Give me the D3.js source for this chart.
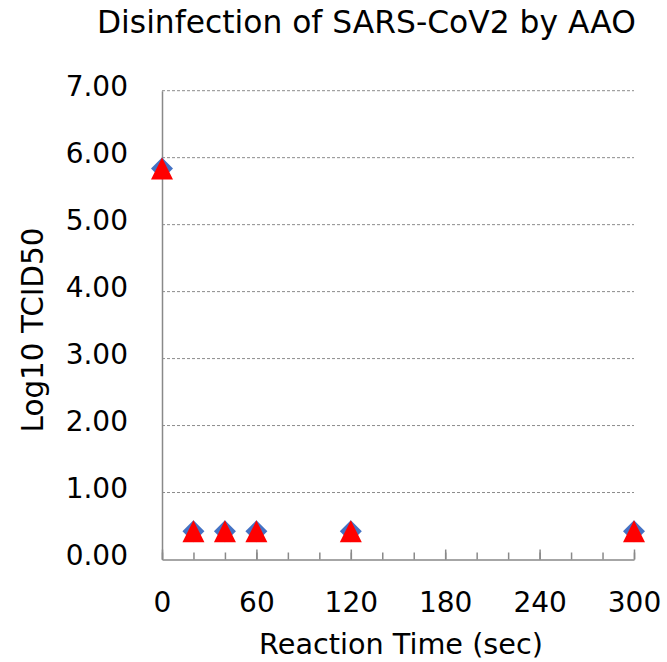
<!DOCTYPE html>
<html>
<head>
<meta charset="utf-8">
<script src="https://cdn.jsdelivr.net/npm/d3@7"></script>
<style>
  html, body { margin: 0; padding: 0; background: #fff; }
  svg { display: block; font-family: "DejaVu Sans", Verdana, sans-serif; }
</style>
</head>
<body>
<svg id="chart" width="667" height="662"></svg>
<script>
// ---- data ----
const titleText = "Disinfection of SARS-CoV2 by AAO";
const xTitle = "Reaction Time (sec)";
const yTitle = "Log10 TCID50";
const times = [0, 20, 40, 60, 120, 300];
const seriesDiamond = [5.84, 0.42, 0.42, 0.42, 0.42, 0.42];
const seriesTriangle = [5.84, 0.42, 0.42, 0.42, 0.42, 0.42];
const xMajorTicks = [0, 60, 120, 180, 240, 300];
const xMinorTicks = [0, 20, 40, 60, 80, 100, 120, 140, 160, 180, 200, 220, 240, 260, 280, 300];
const yTicks = [0, 1, 2, 3, 4, 5, 6, 7];

// ---- layout ----
const svg = d3.select("#chart");
const x = d3.scaleLinear().domain([0, 300]).range([162, 634]);
const y = d3.scaleLinear().domain([0, 7]).range([559.5, 90.7]);
const axisColor = "#898989";
const gridColor = "#8c8c8c";
const tickFont = 28;

// gridlines
svg.append("g").selectAll("line")
  .data(yTicks.filter(d => d > 0))
  .join("line")
  .attr("x1", x(0)).attr("x2", x(300))
  .attr("y1", d => y(d)).attr("y2", d => y(d))
  .attr("stroke", gridColor).attr("stroke-width", 1)
  .attr("stroke-dasharray", "3,2");

// x axis minor ticks
const gxMinor = svg.append("g").attr("transform", `translate(0,${y(0)})`)
  .call(d3.axisBottom(x).tickValues(xMinorTicks).tickSizeInner(-7).tickSizeOuter(0).tickFormat(""));
gxMinor.select(".domain").remove();
gxMinor.selectAll("line").attr("stroke", axisColor).attr("stroke-width", 1.5);

// x axis major ticks + labels
const gx = svg.append("g").attr("transform", `translate(0,${y(0)})`)
  .call(d3.axisBottom(x).tickValues(xMajorTicks).tickSizeInner(-10).tickSizeOuter(0).tickFormat(d3.format("d")));
gx.select(".domain").attr("stroke", axisColor).attr("stroke-width", 1.5);
gx.selectAll("line").attr("stroke", axisColor).attr("stroke-width", 1.5);
gx.selectAll("text")
  .attr("y", 52.5).attr("dy", 0)
  .attr("fill", "#000")
  .style("font-family", "'DejaVu Sans', Verdana, sans-serif")
  .style("font-size", tickFont + "px");

// y axis
const gy = svg.append("g").attr("transform", `translate(${x(0)},0)`)
  .call(d3.axisLeft(y).tickValues(yTicks).tickSize(0).tickPadding(34).tickFormat(d3.format(".2f")));
gy.select(".domain").attr("stroke", axisColor).attr("stroke-width", 1.5);
gy.selectAll("text")
  .attr("dy", 5)
  .attr("dominant-baseline", "auto")
  .attr("fill", "#000")
  .style("font-family", "'DejaVu Sans', Verdana, sans-serif")
  .style("font-size", tickFont + "px");

// markers
const diamondPath = "M0,-11L11,0L0,11L-11,0Z";
const trianglePath = "M0,-11L11,11L-11,11Z";
svg.append("g").selectAll("path")
  .data(times.map((t, i) => [t, seriesDiamond[i]]))
  .join("path")
  .attr("d", diamondPath)
  .attr("transform", d => `translate(${x(d[0])},${y(d[1])})`)
  .attr("fill", "#4472C4");
svg.append("g").selectAll("path")
  .data(times.map((t, i) => [t, seriesTriangle[i]]))
  .join("path")
  .attr("d", trianglePath)
  .attr("transform", d => `translate(${x(d[0])},${y(d[1])})`)
  .attr("fill", "#FF0000");

// titles, fitted to measured widths
function fitText(sel, targetWidth, startSize) {
  sel.style("font-size", startSize + "px");
  const w = sel.node().getComputedTextLength();
  sel.style("font-size", (startSize * targetWidth / w) + "px");
}
const title = svg.append("text")
  .attr("x", 97).attr("y", 32.5)
  .attr("text-anchor", "start")
  .attr("fill", "#000")
  .text(titleText);
fitText(title, 539, 28);

const xt = svg.append("text")
  .attr("x", 401).attr("y", 654)
  .attr("text-anchor", "middle")
  .attr("fill", "#000")
  .style("font-size", "28px")
  .text(xTitle);
fitText(xt, 284, 28);

const yt = svg.append("text")
  .attr("transform", `translate(43,330) rotate(-90)`)
  .attr("text-anchor", "middle")
  .attr("fill", "#000")
  .style("font-size", "28px")
  .text(yTitle);
fitText(yt, 205, 28);
</script>
</body>
</html>
